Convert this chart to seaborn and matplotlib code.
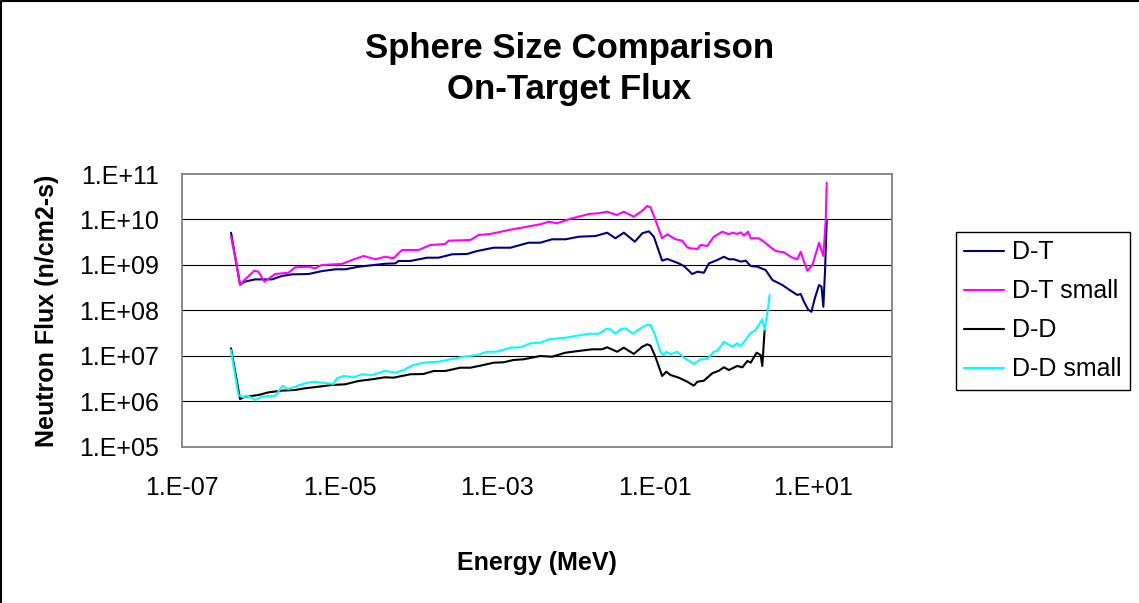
import matplotlib
matplotlib.use("Agg")
import matplotlib.pyplot as plt
from matplotlib.lines import Line2D
from matplotlib.ticker import FixedLocator, FixedFormatter, NullLocator
import pandas as pd
import seaborn as sns

# ---- neutron flux spectra (energy in MeV, flux in n/cm2-s) ----
dt_energy = [4.22e-7, 5.49e-7, 6.36e-7, 8.51e-7, 1.39e-6, 1.86e-6, 2.49e-6, 4.05e-6, 5.98e-6,
             8.81e-6, 1.18e-5, 1.74e-5, 3.80e-5, 5.09e-5, 5.61e-5, 7.88e-5, 1.29e-4, 1.80e-4,
             2.67e-4, 4.14e-4, 5.55e-4, 9.00e-4, 1.47e-3, 2.50e-3, 3.52e-3, 4.95e-3, 7.31e-3,
             1.08e-2, 1.76e-2, 2.47e-2, 3.15e-2, 4.02e-2, 5.55e-2, 6.89e-2, 8.34e-2, 9.66e-2,
             0.123, 0.143, 0.200, 0.232, 0.296, 0.344, 0.416, 0.482, 0.615, 0.746, 0.865, 1.00,
             1.22, 1.41, 1.63, 1.98, 2.52, 3.07, 4.11, 5.25, 6.38, 7.02, 7.73, 8.69, 9.60, 10.6,
             12.0, 12.9, 13.6, 14.3, 15.0]
dt_flux = [5.1e9, 3.7e8, 4.3e8, 4.8e8, 4.8e8, 5.7e8, 6.2e8, 6.3e8, 7.3e8,
           8.0e8, 8.0e8, 9.1e8, 1.06e9, 1.08e9, 1.22e9, 1.22e9, 1.44e9, 1.44e9,
           1.71e9, 1.74e9, 2.02e9, 2.39e9, 2.39e9, 3.08e9, 3.08e9, 3.66e9, 3.66e9,
           4.17e9, 4.32e9, 5.11e9, 3.85e9, 5.11e9, 3.24e9, 4.96e9, 5.49e9, 4.17e9,
           1.24e9, 1.35e9, 1.08e9, 9.46e8, 6.31e8, 7.08e8, 6.73e8, 1.08e9, 1.28e9, 1.51e9, 1.33e9, 1.33e9,
           1.18e9, 1.24e9, 9.46e8, 9.12e8, 7.72e8, 4.66e8, 3.61e8, 2.70e8, 2.18e8, 2.29e8, 1.55e8, 1.05e8, 9.3e7, 1.84e8,
           3.61e8, 3.31e8, 1.20e8, 7.72e8, 9.73e9]

dt_small_energy = [4.22e-7, 4.75e-7, 5.49e-7, 6.36e-7, 8.34e-7, 9.38e-7, 1.12e-6, 1.53e-6, 2.25e-6,
                   2.74e-6, 4.05e-6, 4.92e-6, 5.98e-6, 1.07e-5, 1.44e-5, 2.02e-5, 2.84e-5, 3.80e-5,
                   4.84e-5, 6.19e-5, 1.01e-4, 1.42e-4, 2.19e-4, 2.42e-4, 4.56e-4, 5.81e-4, 8.17e-4,
                   1.40e-3, 3.52e-3, 4.49e-3, 5.74e-3, 8.05e-3, 1.45e-2, 1.94e-2, 2.47e-2, 3.31e-2,
                   4.02e-2, 5.38e-2, 6.89e-2, 7.96e-2, 8.77e-2, 0.101, 0.123, 0.143, 0.182, 0.221,
                   0.256, 0.282, 0.344, 0.378, 0.459, 0.557, 0.713, 0.865, 0.955, 1.10, 1.22, 1.34,
                   1.51, 1.63, 2.07, 2.40, 2.78, 3.38, 4.32, 5.25, 6.38, 7.02, 7.73, 8.55, 9.89,
                   12.0, 13.6, 14.6, 15.0]
dt_small_flux = [4.17e9, 1.51e9, 3.61e8, 4.82e8, 7.45e8, 7.08e8, 4.27e8, 6.31e8, 6.73e8,
                 8.85e8, 9.12e8, 8.41e8, 9.95e8, 1.05e9, 1.28e9, 1.57e9, 1.33e9, 1.51e9,
                 1.40e9, 2.13e9, 2.13e9, 2.74e9, 2.88e9, 3.41e9, 3.53e9, 4.55e9, 4.79e9,
                 5.86e9, 7.82e9, 8.92e9, 8.23e9, 1.01e10, 1.32e10, 1.37e10, 1.48e10, 1.25e10,
                 1.48e10, 1.15e10, 1.56e10, 1.98e10, 1.85e10, 9.73e9, 3.85e9, 4.71e9, 3.66e9, 3.41e9,
                 2.44e9, 2.32e9, 2.24e9, 2.74e9, 2.61e9, 4.17e9, 5.38e9, 4.71e9, 5.11e9, 4.79e9, 5.21e9, 4.39e9,
                 5.38e9, 3.85e9, 3.85e9, 3.24e9, 2.61e9, 2.02e9, 1.89e9, 1.51e9, 1.33e9, 1.95e9, 1.18e9, 7.45e8, 9.95e8,
                 3.08e9, 1.57e9, 9.73e9, 6.44e10]

dd_energy = [4.22e-7, 5.49e-7, 6.36e-7, 9.38e-7, 1.26e-6, 1.86e-6, 2.74e-6, 3.67e-6, 5.42e-6,
             8.02e-6, 1.18e-5, 1.74e-5, 2.58e-5, 3.80e-5, 4.84e-5, 7.88e-5, 1.16e-4, 1.56e-4,
             2.19e-4, 3.40e-4, 4.56e-4, 6.71e-4, 9.00e-4, 1.20e-3, 1.61e-3, 2.16e-3, 3.52e-3,
             4.95e-3, 7.31e-3, 1.08e-2, 1.60e-2, 2.14e-2, 2.47e-2, 3.31e-2, 4.02e-2, 5.38e-2,
             6.89e-2, 7.96e-2, 8.77e-2, 0.101, 0.123, 0.139, 0.157, 0.200, 0.256, 0.310, 0.344,
             0.416, 0.532, 0.645, 0.746, 0.865, 1.10, 1.28, 1.48, 1.63, 1.94, 2.18, 2.29, 2.45]
dd_flux = [1.46e7, 1.12e6, 1.26e6, 1.37e6, 1.57e6, 1.71e6, 1.77e6, 1.93e6, 2.09e6,
           2.28e6, 2.36e6, 2.79e6, 3.04e6, 3.37e6, 3.30e6, 3.92e6, 3.98e6, 4.63e6,
           4.63e6, 5.47e6, 5.47e6, 6.28e6, 7.05e6, 7.19e6, 8.09e6, 8.38e6, 9.91e6,
           9.55e6, 1.17e7, 1.28e7, 1.39e7, 1.39e7, 1.54e7, 1.23e7, 1.51e7, 1.10e7,
           1.58e7, 1.79e7, 1.67e7, 9.55e6, 3.60e6, 4.47e6, 3.78e6, 3.30e6, 2.69e6, 2.20e6, 2.69e6,
           2.83e6, 4.12e6, 4.70e6, 5.58e6, 4.87e6, 5.97e6, 5.58e6, 7.69e6, 7.05e6, 1.17e7, 1.04e7, 5.97e6, 3.70e7]

dd_small_energy = [4.22e-7, 5.23e-7, 6.05e-7, 6.88e-7, 8.51e-7, 1.04e-6, 1.53e-6, 1.89e-6, 2.25e-6,
                   3.67e-6, 4.68e-6, 8.40e-6, 9.27e-6, 1.12e-5, 1.51e-5, 1.92e-5, 2.58e-5, 3.80e-5,
                   5.09e-5, 6.49e-5, 8.69e-5, 1.16e-4, 1.80e-4, 2.31e-4, 3.75e-4, 5.55e-4, 7.43e-4,
                   9.93e-4, 1.47e-3, 1.96e-3, 2.63e-3, 3.52e-3, 4.49e-3, 7.31e-3, 1.45e-2, 1.94e-2,
                   2.40e-2, 2.72e-2, 3.15e-2, 3.65e-2, 4.23e-2, 5.22e-2, 6.89e-2, 7.80e-2, 8.77e-2,
                   9.93e-2, 0.117, 0.127, 0.139, 0.157, 0.191, 0.232, 0.296, 0.310, 0.378, 0.459,
                   0.557, 0.615, 0.746, 0.955, 1.10, 1.22, 1.63, 1.88, 2.29, 2.45, 2.65, 2.84]
dd_small_flux = [1.34e7, 1.37e6, 1.22e6, 1.32e6, 1.07e6, 1.26e6, 1.32e6, 2.17e6, 1.86e6,
                 2.48e6, 2.69e6, 2.40e6, 3.20e6, 3.60e6, 3.37e6, 3.92e6, 3.78e6, 4.70e6,
                 4.25e6, 4.87e6, 6.28e6, 7.05e6, 7.41e6, 8.09e6, 9.55e6, 1.04e7, 1.23e7,
                 1.23e7, 1.51e7, 1.54e7, 1.88e7, 1.94e7, 2.31e7, 2.50e7, 3.06e7, 3.06e7,
                 3.89e7, 3.83e7, 3.06e7, 3.83e7, 4.03e7, 3.06e7, 4.24e7, 4.76e7, 4.76e7,
                 2.97e7, 1.23e7, 1.04e7, 1.23e7, 1.08e7, 1.23e7, 9.08e6, 7.05e6, 6.61e6, 8.38e6, 8.51e6,
                 1.23e7, 1.28e7, 2.04e7, 1.58e7, 1.88e7, 1.64e7, 3.13e7, 3.70e7, 6.35e7, 3.70e7, 8.61e7, 2.18e8]

series_names = ["D-T", "D-T small", "D-D", "D-D small"]
series_colors = ["#000080", "#FF00FF", "#000000", "#00FFFF"]

x_ticks = [1e-7, 1e-5, 1e-3, 1e-1, 1e1]
x_tick_labels = ["1.E-07", "1.E-05", "1.E-03", "1.E-01", "1.E+01"]
y_ticks = [1e5, 1e6, 1e7, 1e8, 1e9, 1e10, 1e11]
y_tick_labels = ["1.E+05", "1.E+06", "1.E+07", "1.E+08", "1.E+09", "1.E+10", "1.E+11"]

# ---- long-form table for seaborn ----
frames = []
for name, e, f in zip(series_names,
                      [dt_energy, dt_small_energy, dd_energy, dd_small_energy],
                      [dt_flux, dt_small_flux, dd_flux, dd_small_flux]):
    frames.append(pd.DataFrame({"energy": e, "flux": f, "series": name}))
df = pd.concat(frames, ignore_index=True)

sns.set_style("white")
plt.rcParams["font.family"] = ["Liberation Sans", "DejaVu Sans"]
plt.rcParams["text.color"] = "black"
plt.rcParams["axes.labelcolor"] = "black"
plt.rcParams["xtick.color"] = "black"
plt.rcParams["ytick.color"] = "black"

W, H = 1139, 603
fig = plt.figure(figsize=(W / 100, H / 100), dpi=100)
ax = fig.add_axes([181.7 / W, 1 - 446.7 / H, 710.0 / W, 272.7 / H])

sns.lineplot(data=df, x="energy", y="flux", hue="series", hue_order=series_names,
             palette=dict(zip(series_names, series_colors)), estimator=None,
             sort=False, linewidth=1.5, legend=False, ax=ax)

ax.set_xscale("log")
ax.set_yscale("log")
ax.set_xlim(1e-7, 1e2)
ax.set_ylim(1e5, 1e11)

ax.xaxis.set_major_locator(FixedLocator(x_ticks))
ax.xaxis.set_major_formatter(FixedFormatter(x_tick_labels))
ax.yaxis.set_major_locator(FixedLocator(y_ticks))
ax.yaxis.set_major_formatter(FixedFormatter(y_tick_labels))
ax.xaxis.set_minor_locator(NullLocator())
ax.yaxis.set_minor_locator(NullLocator())

ax.grid(False)
for yv in y_ticks[1:-1]:
    ax.axhline(yv, color="black", linewidth=0.8, zorder=0.5)

for s in ax.spines.values():
    s.set_visible(True)
    s.set_color("#808080")
    s.set_linewidth(1.3)

ax.tick_params(axis="both", which="major", direction="out", length=6, width=1.2,
               color="#808080", labelsize=18, labelcolor="black")
ax.tick_params(axis="x", pad=15)
ax.tick_params(axis="y", pad=10)

ax.set_xlabel("Energy (MeV)", fontsize=18, fontweight="bold", color="black")
ax.xaxis.label.set_va("center")
ax.xaxis.set_label_coords(0.5, (446.7 - 563) / 272.7)
ax.set_ylabel("Neutron Flux (n/cm2-s)", fontsize=18, fontweight="bold", color="black")
ax.yaxis.label.set_va("center")
ax.yaxis.label.set_ha("center")
ax.yaxis.set_label_coords((47 - 181.7) / 710.0, 0.5)

fig.text(0.5, 1 - 69 / H, "Sphere Size Comparison\nOn-Target Flux", ha="center", va="center",
         fontsize=25, fontweight="bold", linespacing=1.33, color="black")

handles = [Line2D([0], [0], color=c, linewidth=1.5) for c in series_colors]
leg = ax.legend(handles, series_names, loc="upper left",
                bbox_to_anchor=(955.7 / W, 1 - 231.7 / H), bbox_transform=fig.transFigure,
                borderaxespad=0, fontsize=18, handlelength=1.6, handletextpad=0.3,
                labelspacing=0.6, borderpad=0.35, fancybox=False, framealpha=1)
leg.get_frame().set_edgecolor("black")
leg.get_frame().set_linewidth(1.0)
for t in leg.get_texts():
    t.set_color("black")

# chart area border along the left and top edges
fig.add_artist(Line2D([0.001, 0.001, 1.0], [0.0, 0.999, 0.999], transform=fig.transFigure,
                      color="black", linewidth=1.5))

fig.savefig("out.png", dpi=100, facecolor="white")
